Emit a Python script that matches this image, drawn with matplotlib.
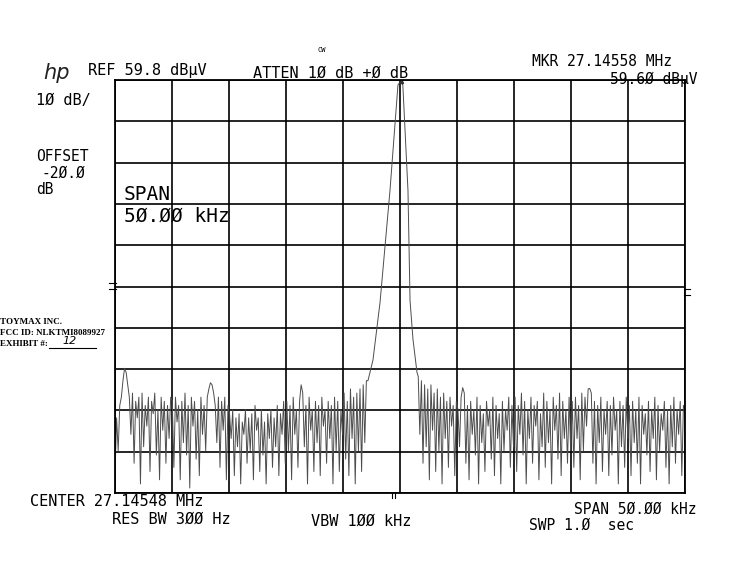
import numpy as np
import matplotlib.pyplot as plt

W, H = 733, 582

ref_level = 59.8      # dBuV, top graticule line
db_per_div = 10
center_mhz = 27.14548
span_khz = 50.0
marker_khz = 0.1
marker_dbuv = 59.6

# trace (dBuV), sweep points left of the carrier (-25 .. -2.95 kHz)
left_noise = [
    -36, -22, -30, -19, -17, -13, -10, -11, -14, -17, -26, -16, -33, -18, -22, -17, -38, -16,
    -29, -19, -24, -17, -35, -18, -21, -16, -31, -20, -37, -17, -25, -18, -33, -19, -27, -17,
    -18, -34, -17, -23, -19, -37, -18, -28, -16, -31, -19, -39, -17, -24, -18, -32, -20, -36,
    -17, -26, -19, -30, -17, -15, -13.5, -14, -16, -19, -28, -17, -34, -18, -25, -17, -37, -19,
    -21, -27, -20, -36, -22, -29, -21, -38, -23, -26, -20, -33, -22, -30, -21, -37, -19, -25,
    -22, -35, -20, -31, -23, -38, -21, -27, -20, -34, -22, -29, -19, -36, -21, -26, -18, -33,
    -18, -30, -19, -37, -17, -26, -20, -34, -18, -14, -16, -29, -19, -38, -17, -25, -20, -35,
    -18, -28, -19, -36, -17, -24, -20, -33, -18, -27, -19, -38, -17, -30, -18, -35, -20, -26,
    -16, -32, -18, -36, -15, -27, -17, -38, -16, -30, -15, -35, -14, -28, -13,
]
# carrier skirt and peak
peak_khz = [-2.81, -2.37, -1.75, -0.88, -0.18, 0.1, 0.25, 0.70, 0.88, 1.14, 1.49]
peak_dbuv = [-13, -8, 6, 33, 58.6, 59.6, 58.5, 33, 6.4, -3, -11]
# sweep points right of the carrier (1.6 .. 25 kHz)
right_noise = [
    -12, -26, -13, -33, -14, -29, -15, -37, -14, -25, -16, -35, -15, -30, -17, -38, -16, -27,
    -18, -34, -17, -24, -19, -36, -18,
    -20, -29, -17, -14.7, -16, -33, -19, -37, -18, -26, -20, -31, -17, -38, -19, -28, -21, -35,
    -18, -24, -20, -32, -17, -36, -19, -27, -21, -38, -18, -30, -20, -25, -17, -34, -19, -29,
    -17, -35, -19, -26, -16, -31, -18, -38, -20, -27, -17, -33, -19, -24, -18, -37, -21, -29,
    -16, -34, -18, -28, -20, -38, -17, -25, -19, -32, -16, -36, -18, -27, -20, -33, -17, -30,
    -18, -34, -17, -27, -19, -37, -16, -30, -17, -24, -15, -14.9, -16, -33, -18, -38, -19, -28,
    -17, -35, -20, -26, -18, -36, -19, -31, -17, -25, -20, -38, -18, -29, -19, -34, -17, -27,
    -19, -36, -18, -28, -20, -33, -17, -38, -19, -26, -21, -31, -18, -35, -20, -27, -17, -37,
    -19, -30, -21, -25, -18, -34, -20, -38, -19, -29, -17, -33, -20, -26, -18, -36, -19, -20,
]

freq = np.concatenate([np.linspace(-span_khz / 2, -2.95, len(left_noise)),
                       peak_khz,
                       np.linspace(1.6, span_khz / 2, len(right_noise))])
level = np.concatenate([left_noise, peak_dbuv, right_noise])

fig = plt.figure(figsize=(W / 100, H / 100), dpi=100)
fig.patch.set_facecolor('white')
ax = fig.add_axes([115 / W, 1 - 493 / H, (685 - 115) / W, (493 - 80) / H])

bottom = ref_level - 10 * db_per_div
ax.set_xlim(-span_khz / 2, span_khz / 2)
ax.set_ylim(bottom, ref_level)
ax.set_xticks(np.arange(-25, 26, 5))
ax.set_yticks(np.arange(bottom, ref_level + 0.1, db_per_div))
ax.tick_params(length=0, labelbottom=False, labelleft=False)
ax.grid(True, color='black', lw=1.2)
for s in ax.spines.values():
    s.set_linewidth(1.3)

ax.plot(freq, level, color='#4d4d4d', lw=0.7)
ax.plot([marker_khz], [marker_dbuv], marker='^', ms=3, color='#333333')

mono = 'DejaVu Sans Mono'


def txt(x, y, s, size=11, ha='left', **kw):
    fig.text(x / W, 1 - y / H, s, ha=ha, va='center', fontsize=size,
             family=kw.pop('family', mono), **kw)


txt(43, 73, 'hp', size=15, style='italic', family='DejaVu Sans', color='#222222')
txt(88, 71, 'REF 59.8 dBµV')
txt(253, 73, 'ATTEN 1Ø dB +Ø dB')
txt(318, 50, 'CW', size=5)
txt(532, 62, 'MKR 27.14558 MHz', size=10.5)
txt(697, 79, '59.6Ø dBµV', ha='right', size=10.5)
txt(36, 100, '1Ø dB/')
txt(36, 157, 'OFFSET', size=10.5)
txt(42, 173, '-2Ø.Ø', size=10.5)
txt(36, 189, 'dB', size=10.5)
txt(124, 195, 'SPAN', size=14)
txt(124, 216, '5Ø.ØØ kHz', size=14)

serif = 'Liberation Serif'
txt(0, 322, 'TOYMAX INC.', size=6.5, family=serif, weight='bold')
txt(0, 333, 'FCC ID: NLKTMI8089927', size=6.5, family=serif, weight='bold')
txt(0, 344, 'EXHIBIT #:', size=6.5, family=serif, weight='bold')
txt(62, 341, '12', size=8, family='DejaVu Sans', style='italic')
fig.add_artist(plt.Line2D([49 / W, 96 / W], [1 - 348 / H] * 2, color='black', lw=0.8))

txt(30, 501, 'CENTER 27.14548 MHz')
txt(112, 519, 'RES BW 3ØØ Hz')
txt(311, 521, 'VBW 1ØØ kHz')
txt(696, 509, 'SPAN 5Ø.ØØ kHz', ha='right', size=10.5)
txt(529, 525, 'SWP 1.Ø  sec', size=10.5)

# small edge marks on the graticule
for yy in (283, 289):
    fig.add_artist(plt.Line2D([109 / W, 116 / W], [1 - yy / H] * 2, color='black', lw=0.8))
for yy in (289, 295):
    fig.add_artist(plt.Line2D([684 / W, 690 / W], [1 - yy / H] * 2, color='black', lw=0.8))
for xx in (392, 395):
    fig.add_artist(plt.Line2D([xx / W] * 2, [1 - 493 / H, 1 - 498 / H], color='black', lw=0.8))

fig.savefig('out.png', dpi=100)
